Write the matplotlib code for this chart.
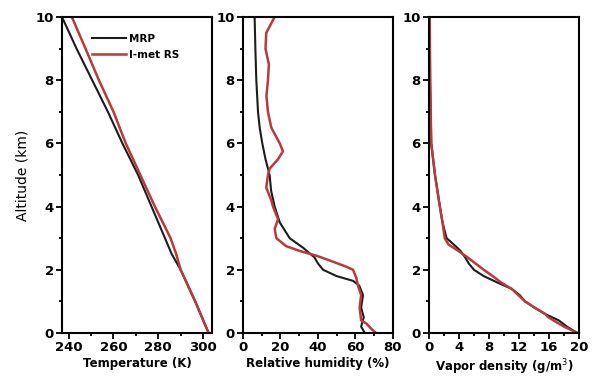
import numpy as np
import matplotlib.pyplot as plt
from matplotlib.ticker import MultipleLocator

# altitude levels (km) and profiles
alt_t = [10, 9, 8, 7, 6, 5, 4, 3, 2.5, 2, 1, 0]
temp_mrp = [237, 243.5, 250.5, 257.5, 264, 271, 277, 283, 286, 290, 296.5, 302.5]
temp_rs = [241.4, 247.5, 253.5, 260, 265.5, 272, 278.5, 285.5, 288, 290, 296.5, 302.5]

alt_rh_mrp = [10, 9, 8, 7, 6.5, 6, 5.5, 5, 4.5, 4, 3.5, 3, 2.7, 2.4, 2.2, 2.0,
              1.8, 1.65, 1.5, 1.2, 0.8, 0.5, 0.2, 0]
rh_mrp = [6.2, 6.6, 7.1, 8, 8.9, 10.3, 12, 14.2, 15, 16.9, 19.6, 24.9, 32, 38,
          40, 42.7, 50, 58.7, 62, 64, 63, 64.4, 63, 65]
alt_rh_rs = [10, 9.5, 9, 8.5, 8, 7.5, 7, 6.5, 6, 5.75, 5.5, 5.2, 5, 4.6, 4.2,
             4, 3.6, 3.3, 3.0, 2.75, 2.6, 2.45, 2.3, 2.1, 2.0, 1.75, 1.5, 1.2,
             0.8, 0.4, 0.3, 0.1, 0]
rh_rs = [16.9, 12.4, 12, 13.8, 13.3, 12.5, 13.3, 15.1, 19.6, 21.3, 18.7, 14.2,
         13.3, 12.4, 15.1, 16, 18.7, 16.9, 17.8, 23, 30, 39, 46, 55, 58.7,
         60.4, 61.3, 63, 62.2, 63, 65.8, 69, 71]

alt_vd = [10, 8, 6, 5, 4, 3.5, 3, 2.8, 2.6, 2.4, 2.2, 2.0, 1.8, 1.6, 1.4, 1.2,
          1.0, 0.8, 0.6, 0.5, 0.4, 0.2, 0]
vd_mrp = [0.1, 0.15, 0.3, 0.8, 1.45, 1.8, 2.35, 3.3, 4.2, 4.8, 5.3, 6.0, 7.3,
          9.1, 11.0, 12.1, 12.8, 14.1, 15.5, 16.4, 17.3, 18.4, 19.8]
vd_rs = [0.1, 0.15, 0.3, 0.8, 1.45, 1.8, 2.1, 2.6, 3.9, 5.1, 6.2, 7.3, 8.5,
         9.6, 11.0, 11.9, 12.8, 14.1, 15.5, 15.9, 16.6, 18.0, 19.8]

black = "#1c1c1c"
red = "#b83a3a"

fig = plt.figure(figsize=(5.93, 3.79), dpi=100)
lefts = [62 / 593, 243 / 593, 429 / 593]
w = 150 / 593
b = 46 / 379
h = 316 / 379


def setup(ax, xlim, major, minor, xlabel):
    ax.set_xlim(*xlim)
    ax.set_ylim(0, 10)
    ax.xaxis.set_major_locator(MultipleLocator(major))
    ax.xaxis.set_minor_locator(MultipleLocator(minor))
    ax.yaxis.set_major_locator(MultipleLocator(2))
    ax.yaxis.set_minor_locator(MultipleLocator(1))
    ax.tick_params(which="both", direction="out", width=1.3, pad=2)
    ax.tick_params(which="major", length=4)
    ax.tick_params(which="minor", length=2.5)
    for lab in ax.get_xticklabels() + ax.get_yticklabels():
        lab.set_fontweight("bold")
        lab.set_fontsize(9.5)
    for s in ax.spines.values():
        s.set_linewidth(1.5)
    ax.set_xlabel(xlabel, fontsize=8.5, fontweight="bold", labelpad=2)


ax1 = fig.add_axes([lefts[0], b, w, h])
ax1.plot(temp_mrp, alt_t, color=black, lw=1.5, label="MRP")
ax1.plot(temp_rs, alt_t, color=red, lw=1.8, label="I-met RS")
setup(ax1, (237, 304), 20, 10, "Temperature (K)")
ax1.set_ylabel("Altitude (km)", fontsize=10)
leg = ax1.legend(loc="upper left", frameon=False, fontsize=7.5,
                 handlelength=3.3, handletextpad=0.3, borderaxespad=0,
                 labelspacing=0.55, bbox_to_anchor=(0.17, 0.96))
for t in leg.get_texts():
    t.set_fontweight("bold")

ax2 = fig.add_axes([lefts[1], b, w, h])
ax2.plot(rh_mrp, alt_rh_mrp, color=black, lw=1.5)
ax2.plot(rh_rs, alt_rh_rs, color=red, lw=1.8)
setup(ax2, (0, 80), 20, 10, "Relative humidity (%)")

ax3 = fig.add_axes([lefts[2], b, w, h])
ax3.plot(vd_mrp, alt_vd, color=black, lw=1.5)
ax3.plot(vd_rs, alt_vd, color=red, lw=1.8)
setup(ax3, (0, 20), 4, 2, "Vapor density (g/m$^3$)")

fig.savefig("out.png", dpi=100)
